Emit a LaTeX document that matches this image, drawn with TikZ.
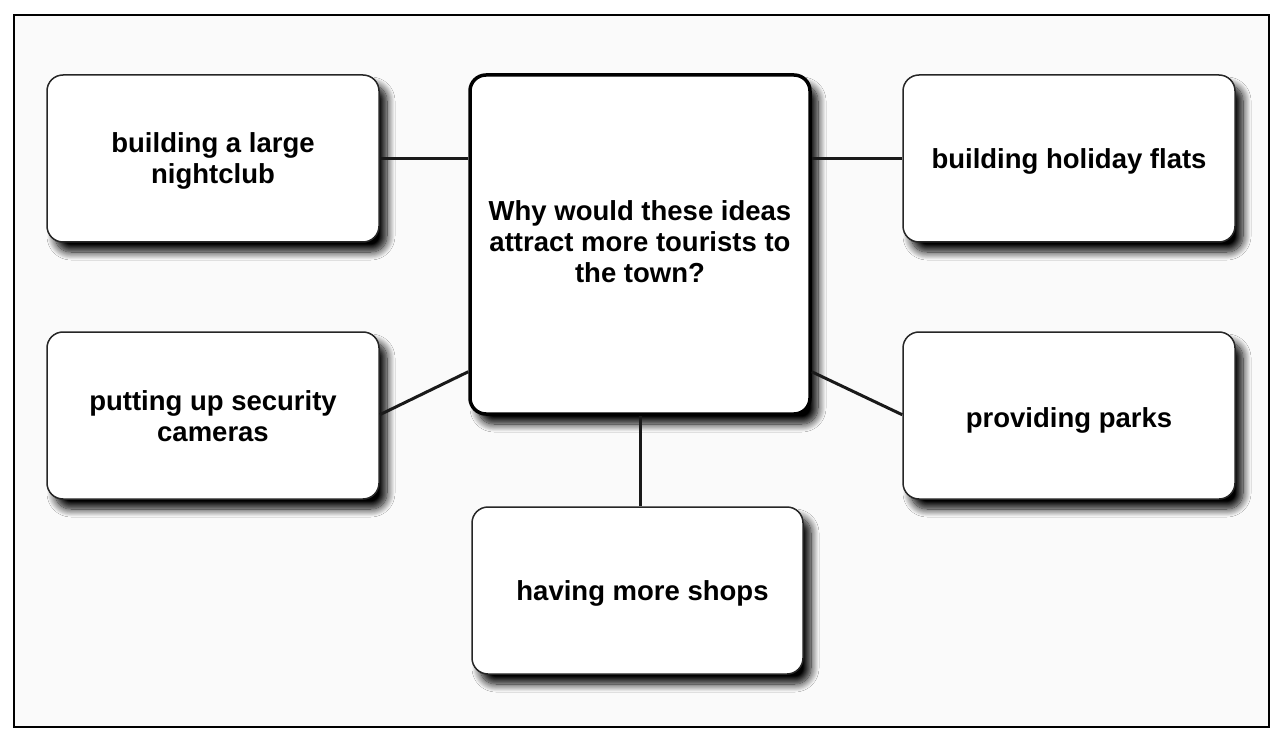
\documentclass[tikz,border=0pt]{standalone}
\usepackage{fontspec}
\setmainfont{Liberation Sans}
\usetikzlibrary{shadows.blur,calc}
\newcommand{\lowertext}[2]{\raisebox{-#1}[\height][\depth]{#2}}
\begin{document}
\begin{tikzpicture}[x=1pt,y=-1pt,
  idea/.style={draw=black!85, line width=1.5pt, rounded corners=16pt, fill=white,
    blur shadow={shadow xshift=8pt, shadow yshift=-10pt, shadow blur radius=8pt, shadow blur steps=12, shadow opacity=100},
    font=\bfseries\fontsize{27.5}{31}\selectfont, align=center, inner sep=0pt,
    minimum width=332pt, minimum height=167pt},
  hub/.style={idea, draw=black, line width=3.5pt, minimum width=340pt, minimum height=339pt},
  link/.style={line width=3pt, draw=black!90}]
\useasboundingbox (0,0) rectangle (1280,746);
\draw[line width=2pt, fill=white!98!black] (14,15) rectangle (1269,727);
\node[hub] (c) at (640,244.5) {\lowertext{1pt}{\begin{tabular}{@{}c@{}}Why would these ideas\\attract more tourists to\\the town?\end{tabular}}};
\node[idea] (tl) at (213,158.5) {\lowertext{3pt}{\begin{tabular}{@{}c@{}}building a large\\nightclub\end{tabular}}};
\node[idea] (tr) at (1069,158.5) {\lowertext{3pt}{building holiday flats}};
\node[idea] (ml) at (213,415.5) {\lowertext{4pt}{\begin{tabular}{@{}c@{}}putting up security\\cameras\end{tabular}}};
\node[idea] (mr) at (1069,415.5) {\lowertext{5pt}{providing parks}};
\node[idea, minimum width=331pt] (b) at (637.5,590.5) {\lowertext{3pt}{\hspace{10pt}having more shops}};
\coordinate (cl) at ($(c.south west)+(0,-44)$);
\coordinate (cr) at ($(c.south east)+(0,-44)$);
\draw[link] (tl.east) -- (tl.east -| c.west);
\draw[link] (tr.west) -- (tr.west -| c.east);
\draw[link] ($(ml.south east)+(0,-85)$) -- (cl);
\draw[link] ($(mr.south west)+(0,-85)$) -- (cr);
\draw[link] (c.south) -- (c.south |- b.north);
\end{tikzpicture}
\end{document}
